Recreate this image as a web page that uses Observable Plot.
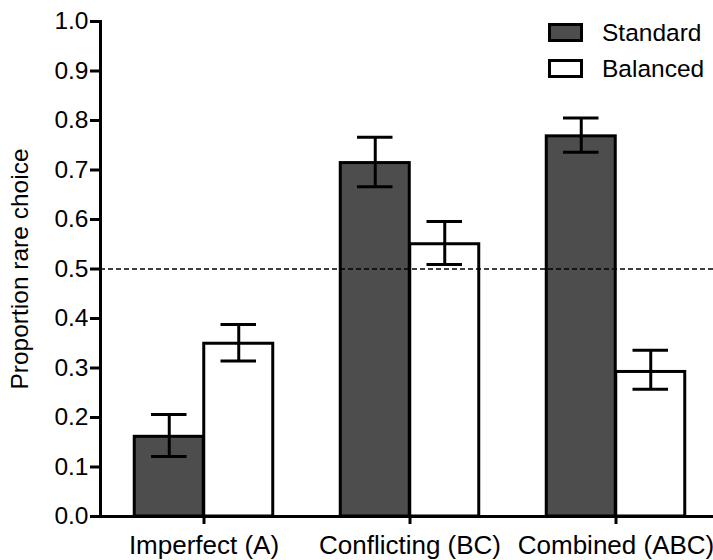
<!DOCTYPE html>
<html>
<head>
<meta charset="utf-8">
<script src="https://cdn.jsdelivr.net/npm/d3@7"></script>
<script src="https://cdn.jsdelivr.net/npm/@observablehq/plot@0.6"></script>
<style>
  html, body { margin: 0; padding: 0; background: #fff; }
  #wrap { position: relative; width: 713px; height: 560px; font-family: "Liberation Sans", Arial, sans-serif; }
  .leg { position: absolute; left: 548px; height: 19px; display: flex; align-items: center; font-size: 24.5px; color: #000; line-height: 19px; }
  .sw { width: 29px; height: 13px; border: 3px solid #000; margin-right: 19px; box-sizing: content-box; }
</style>
</head>
<body>
<div id="wrap"></div>
<script>
const categories = ["Imperfect (A)", "Conflicting (BC)", "Combined (ABC)"];
const series = ["Standard", "Balanced"];
const seriesColors = ["#4d4d4d", "#ffffff"];
const standardMean = [0.161, 0.714, 0.768];
const standardLow  = [0.121, 0.666, 0.736];
const standardHigh = [0.206, 0.766, 0.805];
const balancedMean = [0.349, 0.550, 0.292];
const balancedLow  = [0.314, 0.509, 0.257];
const balancedHigh = [0.388, 0.596, 0.336];
const yTicks = [0, 0.1, 0.2, 0.3, 0.4, 0.5, 0.6, 0.7, 0.8, 0.9, 1.0];
const chanceLevel = [0.5];

const std = categories.map((c, i) => ({cat: c, mean: standardMean[i], lo: standardLow[i], hi: standardHigh[i]}));
const bal = categories.map((c, i) => ({cat: c, mean: balancedMean[i], lo: balancedLow[i], hi: balancedHigh[i]}));

const half = 34.75;
const capInset = 16.75;

const chart = Plot.plot({
  width: 713,
  height: 560,
  marginLeft: 100,
  marginRight: 0,
  marginTop: 21,
  marginBottom: 44,
  style: {fontFamily: "'Liberation Sans', Arial, sans-serif", fontSize: "24px", color: "#000", background: "#fff", overflow: "visible"},
  x: {type: "band", domain: categories, paddingInner: 0.6643, paddingOuter: 0.31285, align: 0.527},
  y: {domain: [0, 1], label: null},
  marks: [
    Plot.barY(std, {x: "cat", y: "mean", fill: seriesColors[0], stroke: "#000", strokeWidth: 3, dx: -half}),
    Plot.barY(bal, {x: "cat", y: "mean", fill: seriesColors[1], stroke: "#000", strokeWidth: 3, dx: half}),
    Plot.ruleX(std, {x: "cat", y1: "lo", y2: "hi", stroke: "#000", strokeWidth: 3, dx: -half}),
    Plot.ruleX(bal, {x: "cat", y1: "lo", y2: "hi", stroke: "#000", strokeWidth: 3, dx: half}),
    Plot.tickY(std, {x: "cat", y: "lo", stroke: "#000", strokeWidth: 3, dx: -half, insetLeft: capInset, insetRight: capInset}),
    Plot.tickY(std, {x: "cat", y: "hi", stroke: "#000", strokeWidth: 3, dx: -half, insetLeft: capInset, insetRight: capInset}),
    Plot.tickY(bal, {x: "cat", y: "lo", stroke: "#000", strokeWidth: 3, dx: half, insetLeft: capInset, insetRight: capInset}),
    Plot.tickY(bal, {x: "cat", y: "hi", stroke: "#000", strokeWidth: 3, dx: half, insetLeft: capInset, insetRight: capInset}),
    Plot.ruleY(chanceLevel, {stroke: "#000", strokeWidth: 1.5, strokeDasharray: "5,3"}),
    Plot.ruleY([0], {stroke: "#000", strokeWidth: 3}),
    Plot.frame({anchor: "left", stroke: "#000", strokeWidth: 3}),
    Plot.axisY({ticks: yTicks, tickFormat: d3.format(".1f"), tickSize: 10, tickPadding: 2, strokeWidth: 3, fontSize: 24.5,
      label: "Proportion rare choice", labelAnchor: "center", labelOffset: 90, labelArrow: "none"}),
    Plot.axisX({tickSize: 8, tickPadding: 11, strokeWidth: 3, fontSize: 26, label: null})
  ]
});

const wrap = document.getElementById("wrap");
wrap.appendChild(chart);
series.forEach((s, i) => {
  const d = document.createElement("div");
  d.className = "leg";
  d.style.top = (23 + i * 36) + "px";
  const sw = document.createElement("div");
  sw.className = "sw";
  sw.style.background = seriesColors[i];
  const t = document.createElement("span");
  t.textContent = s;
  d.appendChild(sw); d.appendChild(t);
  wrap.appendChild(d);
});
</script>
</body>
</html>
